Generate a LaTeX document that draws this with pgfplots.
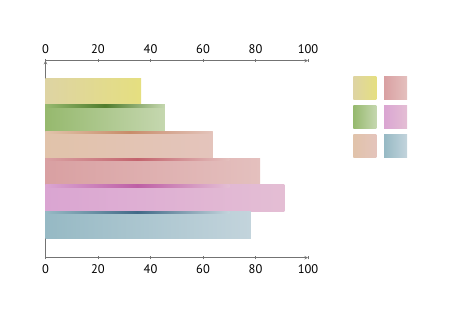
\documentclass[border=0pt]{standalone}
\usepackage{fontspec}
\setmainfont{PT Sans}
\usepackage{pgfplots}
\pgfplotsset{compat=1.18}
\definecolor{yL}{RGB}{222,212,163}\definecolor{yR}{RGB}{229,223,128}
\definecolor{gL}{RGB}{150,185,110}\definecolor{gR}{RGB}{197,215,175}
\definecolor{pL}{RGB}{225,195,170}\definecolor{pR}{RGB}{228,196,188}
\definecolor{rL}{RGB}{217,160,162}\definecolor{rR}{RGB}{228,192,190}
\definecolor{mL}{RGB}{218,165,210}\definecolor{mR}{RGB}{228,190,212}
\definecolor{bL}{RGB}{150,185,196}\definecolor{bR}{RGB}{195,212,220}
\definecolor{gD}{RGB}{80,125,45}\definecolor{pD}{RGB}{200,140,105}
\definecolor{rD}{RGB}{195,100,110}\definecolor{mD}{RGB}{190,95,165}
\definecolor{bD}{RGB}{65,105,135}
\definecolor{axgray}{RGB}{115,115,115}
\begin{document}
\begin{tikzpicture}
\path[use as bounding box] (-45.5pt,-57.3pt) rectangle (404.5pt,257.7pt);
\pgfplotsset{
  common/.style={
    scale only axis, width=262.5pt, height=197pt,
    xmin=0, xmax=100, ymin=-0.226, ymax=7.16,
    xtick={0,20,40,60,80,100},
    ytick=\empty,
    tick align=inside, major tick length=3.5pt,
    every tick/.style={draw=axgray, line width=0.6pt},
    axis line style={draw=axgray, line width=0.6pt, -},
    every outer x axis line/.append style={-},
    every outer y axis line/.append style={-},
    /pgf/number format/assume math mode=true,
    ticklabel style={font=\fontsize{12.5}{14}\selectfont, text=black},
  },
  bar/.style={xbar, bar width=1, bar shift=0pt, draw=none, forget plot},
  shadow/.style={xbar, bar width=0.08, bar shift=0pt, draw=none, forget plot},
}
\begin{axis}[common,
  axis x line=bottom, axis y line=left,
  xticklabel style={yshift=-1.4pt},
  legend columns=2,
  legend style={at={(1.1726,0.9188)}, anchor=north west, draw=none, fill=none,
    inner sep=0pt, outer sep=0pt, column sep=3.35pt, row sep=5.7pt,
    nodes={inner sep=0pt, outer sep=0pt}},
]
\addplot[bar, left color=yL, right color=yR] coordinates {(36.4,6)};
\addplot[bar, left color=gL, right color=gR] coordinates {(45.5,5)};
\addplot[bar, left color=pL, right color=pR] coordinates {(63.7,4)};
\addplot[bar, left color=rL, right color=rR] coordinates {(81.8,3)};
\addplot[bar, left color=mL, right color=mR] coordinates {(91.0,2)};
\addplot[bar, left color=bL, right color=bR] coordinates {(78.2,1)};
% soft shadows cast on the top edge of each lower bar
\addplot[shadow, left color=gL, right color=gR, middle color=gD] coordinates {(45.5,5.46)};
\addplot[shadow, left color=pL, right color=pR, middle color=pD] coordinates {(63.7,4.46)};
\addplot[shadow, left color=rL, right color=rR, middle color=rD] coordinates {(70.0,3.46)};
\addplot[shadow, left color=mL, right color=mR, middle color=mD] coordinates {(70.0,2.46)};
\addplot[shadow, left color=bL, right color=bR, middle color=bD] coordinates {(70.0,1.46)};
\addlegendimage{draw=none, legend image code/.code={\shade[draw=none, left color=yL, right color=yR] (0pt,-11.5pt) rectangle (23pt,11.5pt);}}
\addlegendentry{}
\addlegendimage{draw=none, legend image code/.code={\shade[draw=none, left color=rL, right color=rR] (0pt,-11.5pt) rectangle (23pt,11.5pt);}}
\addlegendentry{}
\addlegendimage{draw=none, legend image code/.code={\shade[draw=none, left color=gL, right color=gR] (0pt,-11.5pt) rectangle (23pt,11.5pt);}}
\addlegendentry{}
\addlegendimage{draw=none, legend image code/.code={\shade[draw=none, left color=mL, right color=mR] (0pt,-11.5pt) rectangle (23pt,11.5pt);}}
\addlegendentry{}
\addlegendimage{draw=none, legend image code/.code={\shade[draw=none, left color=pL, right color=pR] (0pt,-11.5pt) rectangle (23pt,11.5pt);}}
\addlegendentry{}
\addlegendimage{draw=none, legend image code/.code={\shade[draw=none, left color=bL, right color=bR] (0pt,-11.5pt) rectangle (23pt,11.5pt);}}
\addlegendentry{}
\end{axis}
\begin{axis}[common,
  axis x line=top, axis y line=none,
  xticklabel style={yshift=2pt},
]
\end{axis}
\end{tikzpicture}
\end{document}
